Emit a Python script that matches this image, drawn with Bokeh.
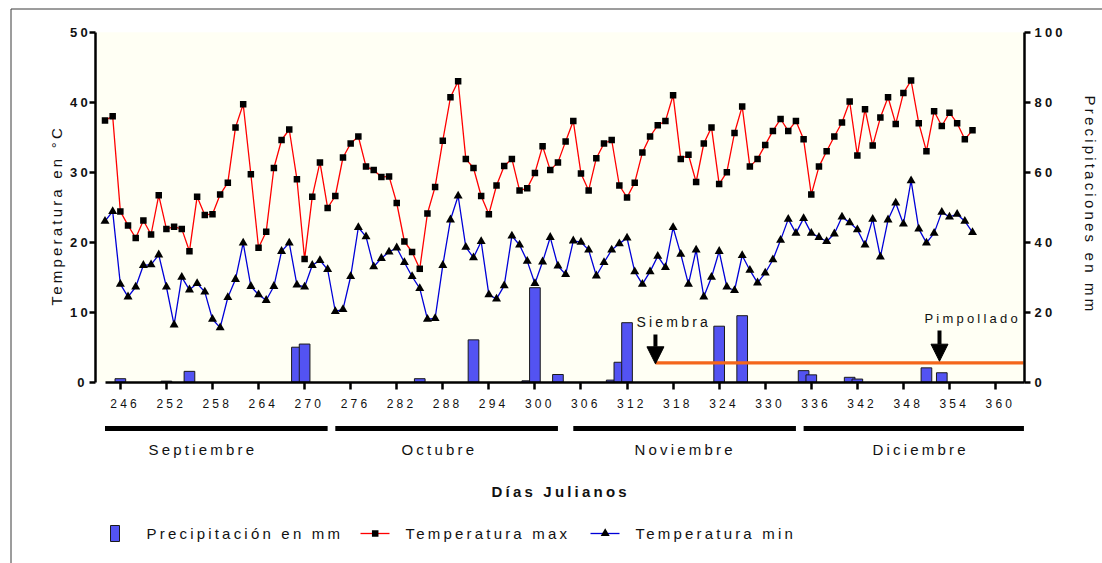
import numpy as np
from bokeh.plotting import figure
from bokeh.models import Range1d, LinearAxis, FixedTicker, Arrow, NormalHead
from bokeh.core.properties import value
from bokeh.embed import file_html
from bokeh.resources import INLINE

# ---------------------------------------------------------------- data
days = list(range(244, 358))  # Julian day of each daily record

temp_max = [
    37.4, 38.0, 24.4, 22.4, 20.6, 23.1, 21.1, 26.7, 21.9, 22.2,
    21.9, 18.7, 26.5, 23.9, 24.0, 26.8, 28.5, 36.4, 39.7, 29.7,
    19.2, 21.5, 30.6, 34.6, 36.1, 29.0, 17.6, 26.5, 31.4, 24.9,
    26.6, 32.1, 34.1, 35.1, 30.8, 30.3, 29.3, 29.4, 25.6, 20.1,
    18.6, 16.2, 24.1, 27.9, 34.5, 40.7, 43.0, 31.9, 30.6, 26.6,
    24.0, 28.1, 30.9, 31.9, 27.4, 27.7, 29.9, 33.7, 30.3, 31.4,
    34.4, 37.3, 29.8, 27.4, 32.0, 34.1, 34.6, 28.1, 26.4, 28.5,
    32.8, 35.1, 36.7, 37.3, 41.0, 31.9, 32.5, 28.6, 34.1, 36.4,
    28.3, 30.0, 35.6, 39.4, 30.8, 31.9, 33.9, 35.9, 37.6, 35.9,
    37.3, 34.7, 26.8, 30.8, 33.0, 35.1, 37.1, 40.1, 32.4, 39.0,
    33.8, 37.8, 40.7, 36.9, 41.3, 43.1, 37.0, 33.0, 38.7, 36.6,
    38.5, 37.0, 34.7, 36.0,
]

temp_min = [
    23.0, 24.4, 14.0, 12.2, 13.6, 16.7, 16.8, 18.2, 13.6, 8.2,
    15.0, 13.2, 14.1, 12.9, 9.0, 7.8, 12.1, 14.7, 19.9, 13.7,
    12.5, 11.7, 13.7, 18.7, 19.9, 13.9, 13.6, 16.7, 17.4, 16.1,
    10.1, 10.4, 15.1, 22.1, 20.8, 16.5, 17.7, 18.6, 19.2, 17.1,
    15.1, 13.4, 9.0, 9.1, 16.7, 23.2, 26.6, 19.3, 17.8, 20.1,
    12.5, 11.9, 13.8, 20.9, 19.6, 17.3, 14.1, 17.2, 20.7, 16.6,
    15.4, 20.2, 20.0, 18.9, 15.2, 17.1, 18.9, 19.8, 20.6, 15.8,
    14.0, 15.8, 18.0, 16.4, 22.1, 18.3, 14.0, 18.9, 12.2, 15.0,
    18.7, 13.6, 13.1, 18.1, 16.0, 14.2, 15.6, 17.5, 20.3, 23.3,
    21.3, 23.4, 21.3, 20.7, 20.1, 21.2, 23.6, 22.8, 21.8, 19.6,
    23.3, 17.9, 23.2, 25.6, 22.6, 28.8, 21.9, 19.9, 21.3, 24.3,
    23.6, 24.0, 23.0, 21.4,
]

precip_mm = [
    0, 0, 1.0, 0, 0, 0, 0, 0, 0.3, 0,
    0, 3.1, 0, 0, 0, 0, 0, 0, 0, 0,
    0, 0, 0, 0, 0, 10.0, 10.9, 0, 0, 0,
    0, 0, 0, 0, 0, 0, 0, 0, 0, 0,
    0, 1.0, 0, 0, 0, 0, 0, 0, 12.1, 0,
    0, 0, 0, 0, 0, 0.4, 27.0, 0, 0, 2.2,
    0, 0, 0, 0, 0, 0, 0.6, 5.7, 17.0, 0,
    0, 0, 0, 0, 0, 0, 0, 0, 0, 0,
    16.0, 0, 0, 19.0, 0, 0, 0, 0, 0, 0,
    0, 3.3, 2.1, 0, 0, 0, 0, 1.4, 0.9, 0,
    0, 0, 0, 0, 0, 0, 0, 4.1, 0, 2.7,
    0, 0, 0, 0,
]

x_ticks = list(range(246, 361, 6))
temp_ticks = [0, 10, 20, 30, 40, 50]
precip_ticks = [0, 20, 40, 60, 80, 100]

months = ["Septiembre", "Octubre", "Noviembre", "Diciembre"]
month_start = [244, 274, 305, 335]
month_end = [273, 303, 334, 363.7]

siembra_day = 315.7
pimpollado_day = 352.7
crop_line_mm = 5.5

# ---------------------------------------------------------------- geometry
W, H = 1102, 563
PX_PER_DAY = 7.677
DAY0_PX = 104.5        # canvas x of day 244
PX_PER_DEG = 7.0
ZERO_PY = 381.7        # canvas y (from top) of 0 degC / 0 mm


def xd(px):
    return 244 + (px - DAY0_PX) / PX_PER_DAY


def yt(py):
    return (ZERO_PY - py) / PX_PER_DEG


FONT = "Liberation Sans"
INK = "#111111"

p = figure(width=W, height=H, output_backend="svg", toolbar_location=None,
           x_range=Range1d(xd(0), xd(W)), y_range=Range1d(yt(H), yt(0)),
           x_axis_type=None, y_axis_type=None, min_border=0)
p.extra_y_ranges = {"precip": Range1d(2 * yt(H), 2 * yt(0))}
p.outline_line_color = None
p.background_fill_color = "white"
p.border_fill_color = "white"
# wide tracking on every label
p.styles = {"letter-spacing": "3.2px"}

# outer frame
p.segment(x0=[xd(10.5), xd(10.5)], y0=[yt(8.5), yt(8.5)],
          x1=[xd(W + 2), xd(10.5)], y1=[yt(8.5), yt(H + 2)],
          line_color="#3a3a3a", line_width=1)

# plotting area
p.quad(left=xd(97), right=xd(1023), bottom=0, top=50,
       fill_color="#FFFFF4", line_color=None)


def style_axis(ax, bold=True, size="13px"):
    ax.axis_line_width = 2.5
    ax.axis_line_color = "black"
    ax.major_tick_line_width = 2.5
    ax.major_tick_line_color = "black"
    ax.major_tick_in = 0
    ax.minor_tick_out = 0
    ax.minor_tick_in = 0
    ax.major_label_text_font = FONT
    ax.major_label_text_font_size = size
    ax.major_label_text_font_style = "bold" if bold else "normal"
    ax.major_label_text_color = INK


left_ax = LinearAxis(fixed_location=xd(95), bounds=(0, 50),
                     ticker=FixedTicker(ticks=temp_ticks))
style_axis(left_ax)
left_ax.major_tick_out = 6
left_ax.major_label_standoff = 5
p.add_layout(left_ax, "left")

right_ax = LinearAxis(y_range_name="precip", fixed_location=xd(1024),
                      bounds=(0, 100), ticker=FixedTicker(ticks=precip_ticks))
style_axis(right_ax)
right_ax.major_tick_out = 6
right_ax.major_label_standoff = 4
p.add_layout(right_ax, "right")

bottom_ax = LinearAxis(fixed_location=0, bounds=(xd(105), xd(1024)),
                       ticker=FixedTicker(ticks=x_ticks))
style_axis(bottom_ax, bold=False, size="12px")
bottom_ax.major_tick_out = 7
bottom_ax.major_label_standoff = 10
p.add_layout(bottom_ax, "below")

# precipitation bars
bar_x = [d for d, v in zip(days, precip_mm) if v > 0]
bar_top = [v for v in precip_mm if v > 0]
BAR_BLUE = "#5353F2"
p.vbar(x=bar_x, top=bar_top, bottom=0, width=1.39, y_range_name="precip",
       fill_color=BAR_BLUE, line_color="#1a1a1a", line_width=1)

# crop period line and event arrows
ORANGE = "#F4661B"
p.segment(x0=[siembra_day], x1=[xd(1023)], y0=[crop_line_mm], y1=[crop_line_mm],
          y_range_name="precip", line_color=ORANGE, line_width=3.3)

for day, top_py, tip_py in [(siembra_day, 334, 363.3), (pimpollado_day, 330, 360.7)]:
    p.add_layout(Arrow(end=NormalHead(size=17, fill_color="black", line_color="black"),
                       x_start=day, y_start=yt(top_py), x_end=day, y_end=yt(tip_py),
                       line_width=4, line_color="black"))

# temperature series
BLUE = "#0000D8"
RED = "#FF0000"
p.line(days, temp_min, line_color=BLUE, line_width=1.3)
p.scatter(days, temp_min, marker="triangle", size=9, fill_color="black", line_color=None)
p.line(days, temp_max, line_color=RED, line_width=1.3)
p.scatter(days, temp_max, marker="square", size=6.5, fill_color="black", line_color=None)


def txt(px, py, s, size="15px", style="normal", angle=0.0):
    p.text(x=[xd(px)], y=[yt(py)], text=[s], angle=angle,
           text_font=value(FONT), text_font_size=value(size),
           text_font_style=style, text_color=INK,
           text_align="left", text_baseline="middle")


txt(636, 321, "Siembra", size="14px")
txt(924, 317.5, "Pimpollado", size="13px")

# axis titles
txt(56, 305, "Temperatura en °C", angle=np.pi / 2)
txt(1090, 95, "Precipitaciones en mm", angle=-np.pi / 2)

# month bands under the day axis
p.segment(x0=month_start, x1=month_end, y0=yt(428), y1=yt(428),
          line_color="black", line_width=5, line_cap="butt")
for name, left_px in zip(months, [148, 401, 634, 872]):
    txt(left_px, 449, name)

txt(491, 491, "Días Julianos", style="bold")

# legend
LEG_PY = 533
p.quad(left=xd(110), right=xd(119), bottom=yt(541), top=yt(525),
       fill_color=BAR_BLUE, line_color="#1a1a1a", line_width=1)
txt(146, LEG_PY, "Precipitación en mm")
p.segment(x0=[xd(360)], x1=[xd(389)], y0=[yt(LEG_PY)], y1=[yt(LEG_PY)],
          line_color=RED, line_width=1.3)
p.scatter([xd(374.7)], [yt(LEG_PY)], marker="square", size=6.5,
          fill_color="black", line_color=None)
txt(405, LEG_PY, "Temperatura max")
p.segment(x0=[xd(590)], x1=[xd(619)], y0=[yt(LEG_PY)], y1=[yt(LEG_PY)],
          line_color=BLUE, line_width=1.3)
p.scatter([xd(604.7)], [yt(LEG_PY)], marker="triangle", size=9,
          fill_color="black", line_color=None)
txt(635, LEG_PY, "Temperatura min")

open("out.html", "w").write(file_html(p, INLINE))
